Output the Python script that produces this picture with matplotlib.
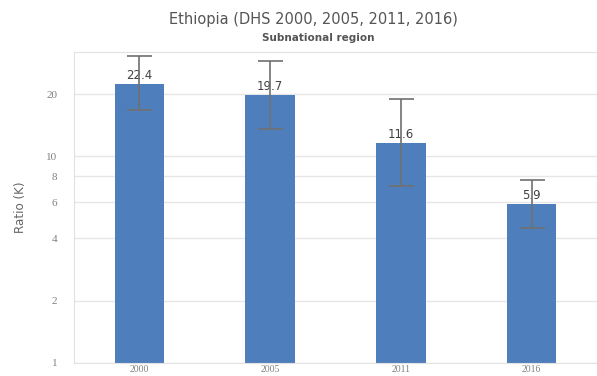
import matplotlib
matplotlib.use('Agg')
from matplotlib import pyplot as plt
from matplotlib.ticker import NullLocator

years = ['2000', '2005', '2011', '2016']
ratio = [22.4, 19.7, 11.6, 5.9]
ci_low = [16.7, 13.5, 7.2, 4.5]
ci_high = [30.6, 28.9, 18.9, 7.7]
yticks = [1, 2, 4, 6, 8, 10, 20]

err = [[r - lo for r, lo in zip(ratio, ci_low)],
       [hi - r for r, hi in zip(ratio, ci_high)]]

fig = plt.figure(figsize=(5.97, 3.76), dpi=100)
ax = fig.add_axes([0.124, 0.035, 0.876, 0.827])

x = range(len(years))
ax.bar(x, ratio, width=0.38, color='#4f7ebd', zorder=2)
ax.errorbar(x, ratio, yerr=err, fmt='none', ecolor='#707070',
            elinewidth=1.2, capsize=9, capthick=1.2, zorder=4)

for i, v in enumerate(ratio):
    ax.annotate(f'{v}', (i, v), xytext=(0, 1.5), textcoords='offset points',
                ha='center', va='bottom', fontsize=8.5, color='#404040',
                family='DejaVu Sans', zorder=3)

ax.set_yscale('log')
ax.set_ylim(1, 32)
ax.set_xlim(-0.5, 3.5)
ax.set_yticks(yticks)
ax.set_yticklabels([str(t) for t in yticks])
ax.yaxis.set_minor_locator(NullLocator())
ax.set_xticks(list(x))
ax.set_xticklabels(years)
ax.tick_params(axis='both', length=0, labelsize=8, colors='#808080',
               labelfontfamily='Liberation Serif')
ax.tick_params(axis='y', pad=12)
ax.tick_params(axis='x', pad=1.5, labelsize=7)

ax.grid(axis='y', color='#e6e6e6', linewidth=1, zorder=0)
for s in ['top', 'right', 'left', 'bottom']:
    ax.spines[s].set_color('#e2e2e2')

ax.set_ylabel('Ratio (K)', fontsize=9.5, color='#666666', labelpad=14,
              family='DejaVu Sans', stretch='condensed')

fig.text(0.525, 0.947, 'Ethiopia (DHS 2000, 2005, 2011, 2016)', ha='center',
         va='center', fontsize=10.5, color='#555555', family='DejaVu Sans')
fig.text(0.533, 0.899, 'Subnational region', ha='center', va='center',
         fontsize=7.5, color='#555555', family='DejaVu Sans', weight='bold')

plt.savefig('out.png', dpi=100)
